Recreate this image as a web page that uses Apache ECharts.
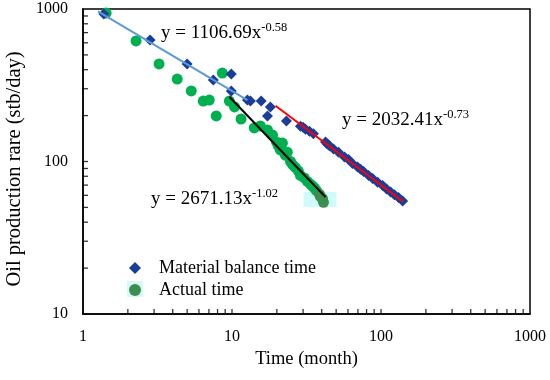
<!DOCTYPE html>
<html><head><meta charset="utf-8">
<script src="https://cdn.jsdelivr.net/npm/echarts@6/dist/echarts.min.js"></script>
<style>html,body{margin:0;padding:0;background:#fff}#c{width:550px;height:380px}</style>
</head><body><div id="c"></div>
<script>
const seriesNames = ['Material balance time', 'Actual time'];
const xTickLabels = [1, 10, 100, 1000];
const yTickLabels = [10, 100, 1000];
const xMinorTicks = [2,3,4,5,6,7,8,9,10,20,30,40,50,60,70,80,90,100,200,300,400,500,600,700,800,900];
const yMinorTicks = [20,30,40,50,60,70,80,90,100,200,300,400,500,600,700,800,900];

const mbTime = [1.38, 2.82, 5.0, 7.49, 9.89, 9.89, 12.7, 13.3, 15.7, 18.1, 17.3, 23.2, 28.8, 30.0, 31.1, 33.1, 35.2, 42.4, 43.6, 45.1, 48.0, 51.9, 56.9, 60.5, 64.4, 69.6, 73.0, 76.4, 82.6, 87.9, 94.9, 102.5, 109, 116, 123, 131, 139.7];
const mbRate = [927, 626, 436, 342, 375, 290, 253, 249, 249, 228, 199, 184, 170, 168, 163, 158, 152, 134, 130, 127, 121, 115, 107, 103, 97, 92, 89, 86, 81, 77.5, 73, 69.5, 66, 63, 60.5, 58, 55];

const actTime = [1.43, 2.27, 3.24, 4.29, 5.33, 6.41, 7.04, 7.84, 8.61, 9.6, 10.4, 11.5, 14.1, 15.5, 17.3, 18.7, 19.9, 20.5, 21.1, 21.8, 22.8, 23.5, 24.7, 25.5, 26.6, 27.9, 28.8, 30.6, 32.1, 33.6, 34.7, 35.8, 36.9, 38.6, 39.2, 40.5, 41.1];
const actRate = [940, 617, 436, 347, 290, 249, 253, 199, 380, 249, 228, 190, 166, 171, 161, 149, 134, 126, 119, 132, 110, 115, 100, 95.5, 91.5, 86.5, 81, 78, 74, 71, 69, 67, 64.5, 61, 59, 57, 54];

// fitted trend lines: end points
const fit1Time = [1.26, 12.7];  const fit1Rate = [965, 253];
const fit2Time = [19.6, 141];   const fit2Rate = [232, 54.5];
const fit3Time = [9.6, 42.4];   const fit3Rate = [266, 58.5];

// highlighted box near last actual-time points
const boxTime = [30.2, 50.3];
const boxRate = [50.3, 63.1];

const eqTexts = [
  ['y = 1106.69x', '-0.58'],
  ['y = 2032.41x', '-0.73'],
  ['y = 2671.13x', '-1.02']
];
const xName = 'Time (month)';
const yName = 'Oil production rare (stb/day)';

const X_MIN = 1, X_MAX = 1000, Y_MIN = 10, Y_MAX = 1000;
const FONT = '"Liberation Serif", "Times New Roman", serif';
const zip = (a, b) => a.map((v, i) => [v, b[i]]);
const inBox = (x, y) => x >= boxTime[0] && x <= boxTime[1] && y >= boxRate[0] && y <= boxRate[1];

const chart = echarts.init(document.getElementById('c'), null, {renderer: 'canvas'});

function eqGraphic(t, left, top) {
  return {
    type: 'text', left: left, top: top, z: 10,
    style: {
      text: '{a|' + t[0] + '}{s|' + t[1] + '}',
      rich: {
        a: {fontFamily: FONT, fontSize: 19, fill: '#000', lineHeight: 22, verticalAlign: 'bottom'},
        s: {fontFamily: FONT, fontSize: 12.5, fill: '#000', lineHeight: 22, verticalAlign: 'top'}
      }
    }
  };
}
const fmt = v => String(Math.round(v));

const option = {
  backgroundColor: '#fff',
  animation: false,
  grid: {left: 83, right: 20, top: 9, bottom: 66, show: true, borderColor: '#000', borderWidth: 1.5,
    backgroundColor: 'transparent', containLabel: false, outerBoundsMode: 'none'},
  xAxis: {
    type: 'log', logBase: 10, min: X_MIN, max: X_MAX, position: 'bottom',
    name: xName, nameLocation: 'middle', nameGap: 34,
    nameTextStyle: {fontFamily: FONT, fontSize: 18.5, color: '#000'},
    axisLine: {show: true, lineStyle: {color: '#000', width: 1.5}},
    axisTick: {show: false},
    axisLabel: {fontFamily: FONT, fontSize: 16, color: '#000', margin: 15, customValues: xTickLabels, formatter: fmt},
    splitLine: {show: false}, minorTick: {show: false}
  },
  yAxis: {
    type: 'log', logBase: 10, min: Y_MIN, max: Y_MAX, position: 'left',
    axisLine: {show: true, lineStyle: {color: '#000', width: 1.5}},
    axisTick: {show: false},
    axisLabel: {fontFamily: FONT, fontSize: 16, color: '#000', margin: 15, customValues: yTickLabels, formatter: fmt},
    splitLine: {show: false}, minorTick: {show: false}
  },
  legend: {
    orient: 'vertical', left: 124, top: 254, itemWidth: 12, itemHeight: 12, itemGap: 4,
    symbolKeepAspect: true,
    textStyle: {fontFamily: FONT, fontSize: 18, color: '#000', lineHeight: 18, padding: [0, 0, 0, 13]},
    data: [
      {name: seriesNames[0], icon: 'diamond', itemStyle: {color: '#1a3d9a'}},
      {name: seriesNames[1], icon: 'circle', itemStyle: {color: '#3d8d4f'}}
    ]
  },
  graphic: {elements: [
    {type: 'rect', left: 127, top: 281, z: 0, shape: {width: 16, height: 16}, style: {fill: '#d4fbfa'}},
    {type: 'text', x: 15, y: 169, rotation: Math.PI / 2, z: 10,
      style: {text: yName, fontFamily: FONT, fontSize: 20.5, fill: '#000', align: 'center', verticalAlign: 'middle'}},
    eqGraphic(eqTexts[0], 161, 21),
    eqGraphic(eqTexts[1], 342, 108),
    eqGraphic(eqTexts[2], 151, 187)
  ]},
  series: [
    {
      name: seriesNames[1], type: 'scatter', symbol: 'circle', symbolSize: 11, z: 2,
      itemStyle: {color: '#00b050', opacity: 1},
      data: zip(actTime, actRate).map(p => inBox(p[0], p[1]) ? {value: p, itemStyle: {color: '#3d8d4f'}} : p),
      markArea: {silent: true, itemStyle: {color: 'rgba(200,250,250,0.85)'},
        data: [[{coord: [boxTime[0], boxRate[0]]}, {coord: [boxTime[1], boxRate[1]]}]]}
    },
    {
      name: seriesNames[0], type: 'scatter', symbol: 'diamond', symbolSize: 11, z: 3,
      itemStyle: {color: '#1a3d9a', opacity: 1},
      data: zip(mbTime, mbRate)
    },
    {type: 'line', name: 'fit1', data: zip(fit1Time, fit1Rate), symbol: 'none', z: 5,
      lineStyle: {color: '#5b9bd5', width: 2}},
    {type: 'line', name: 'fit2', data: zip(fit2Time, fit2Rate), symbol: 'none', z: 5,
      lineStyle: {color: '#ff0000', width: 2}},
    {type: 'line', name: 'fit3', data: zip(fit3Time, fit3Rate), symbol: 'none', z: 5,
      lineStyle: {color: '#000000', width: 2}},
    {
      // inward minor ticks on the bottom axis, placed by the x axis' log scale
      type: 'scatter', name: 'xticks', silent: true, z: 20, clip: false,
      data: xMinorTicks.map(v => [v, Y_MIN]),
      symbol: 'rect', symbolSize: [1.3, 5], symbolOffset: [0, -2.5], itemStyle: {color: '#000'}
    },
    {
      // inward minor ticks on the left axis, placed by the y axis' log scale
      type: 'scatter', name: 'yticks', silent: true, z: 20, clip: false,
      data: yMinorTicks.map(v => [X_MIN, v]),
      symbol: 'rect', symbolSize: [5, 1.3], symbolOffset: [2.5, 0], itemStyle: {color: '#000'}
    }
  ]
};
chart.setOption(option);
</script></body></html>
